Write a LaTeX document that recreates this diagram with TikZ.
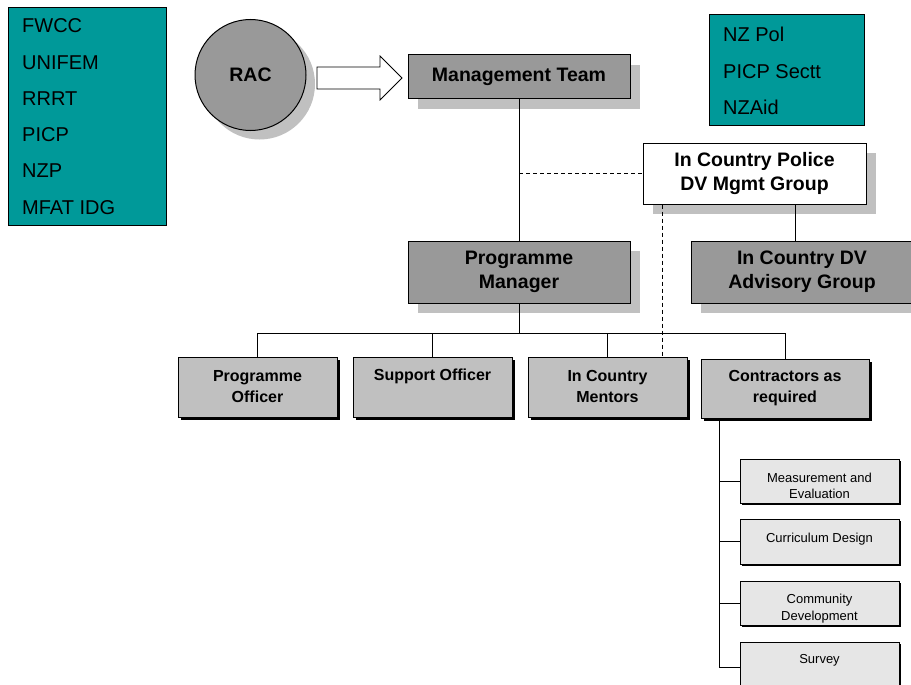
\documentclass[tikz,border=0pt]{standalone}
\usepackage{fontspec}
\setmainfont{Liberation Sans}
\usetikzlibrary{calc}
\definecolor{tealc}{HTML}{009999}
\definecolor{boxg}{HTML}{999999}
\definecolor{shadg}{HTML}{C0C0C0}
\definecolor{rowg}{HTML}{C0C0C0}
\definecolor{subg}{HTML}{E6E6E6}
\newcommand\fbig{\bfseries\fontsize{19.5}{24}\selectfont}
\newcommand\fmid{\bfseries\fontsize{16}{21}\selectfont}
\newcommand\fsub{\fontsize{13}{16.5}\selectfont}
\newcommand\fteal{\fontsize{20}{24}\selectfont}
\begin{document}
\begin{tikzpicture}[x=1pt,y=-1pt,
  bigbox/.style={draw=black, line width=1pt, inner sep=0pt, align=center, font=\fbig, minimum width=222pt},
  shadowbox/.style={fill=shadg, inner sep=0pt, minimum width=222pt},
  rowbox/.style={draw=black, line width=1pt, fill=rowg, inner sep=0pt, minimum width=159pt, minimum height=60pt},
  subbox/.style={draw=black, line width=0.8pt, fill=subg, inner sep=0pt, minimum width=159pt, minimum height=44pt},
  blackshade/.style={fill=black, inner sep=0pt},
  rowtxt/.style={font=\fmid, align=center, inner sep=0pt},
  subtxt/.style={font=\fsub, align=center, inner sep=0pt},
  tealbox/.style={draw=black, line width=0.8pt, fill=tealc, inner sep=0pt},
  tealtxt/.style={font=\fteal, anchor=base west, inner sep=0pt},
  conn/.style={draw=black, line width=0.9pt},
  dashline/.style={draw=black, line width=0.9pt, dash pattern=on 4pt off 3pt}]
\useasboundingbox (0,0) rectangle (911,685);
\fill[white] (0,0) rectangle (911,685);

% teal boxes
\node[tealbox, minimum width=158pt, minimum height=218pt] (leftlist) at (87,116) {};
\foreach \t [count=\i] in {FWCC,UNIFEM,RRRT,PICP,NZP,MFAT IDG}
  \node[tealtxt] (l\i) at (22,{33+36.2*(\i-1)}) {\t};
\node[tealbox, minimum width=155pt, minimum height=111pt] (rightlist) at (786.5,69.5) {};
\foreach \t [count=\i] in {NZ Pol,PICP Sectt,NZAid}
  \node[tealtxt] (r\i) at (723,{42+36*(\i-1)}) {\t};

% RAC
\node[circle, fill=shadg, minimum size=111pt, inner sep=0pt] (racS) at (259.5,84) {};
\node[circle, draw=black, line width=1pt, fill=boxg, minimum size=111pt, inner sep=0pt, font=\fbig] (rac) at (250.5,75) {RAC};

% hollow arrow
\draw[fill=white, line width=0.8pt] (317,67) -- (380,67) -- (380,56) -- (402,78) -- (380,100) -- (380,89) -- (317,89) -- cycle;

% big boxes with shadows
\node[shadowbox, minimum height=44pt] (mtS) at (529,87) {};
\node[bigbox, fill=boxg, minimum height=44pt] (mt) at (519,77) {Management Team};

\node[shadowbox, minimum width=223pt, minimum height=61pt] (icpS) at (764.5,183.5) {};
\node[bigbox, fill=white, minimum width=223pt, minimum height=61pt] (icp) at (754.5,173.5) {In Country Police\\DV Mgmt Group};

\node[shadowbox, minimum height=62pt] (pmS) at (529,282) {};
\node[bigbox, fill=boxg, minimum height=62pt] (pm) at (519,272) {Programme\\Manager};

\node[shadowbox, minimum height=62pt] (dvaS) at (812,282) {};
\node[bigbox, fill=boxg, minimum height=62pt] (dva) at (802,272) {In Country DV\\Advisory Group};

% row boxes
\node[blackshade, minimum width=159pt, minimum height=60pt] (poS) at (260,389.5) {};
\node[rowbox] (po) at (257.5,387) {};
\node[rowtxt] (pot) at (257.5,386.5) {Programme\\Officer};

\node[blackshade, minimum width=159pt, minimum height=60pt] (soS) at (435,389.5) {};
\node[rowbox] (so) at (432.5,387) {};
\node[rowtxt] (sot) at (432.5,376) {Support Officer};

\node[blackshade, minimum width=159pt, minimum height=60pt] (icmS) at (610,389.5) {};
\node[rowbox] (icm) at (607.5,387) {};
\node[rowtxt] (icmt) at (607.5,386.5) {In Country\\Mentors};

\node[blackshade, minimum width=168pt, minimum height=59pt] (conS) at (787.5,391) {};
\node[rowbox, minimum width=168pt, minimum height=59pt] (con) at (785,388.5) {};
\node[rowtxt] (cont) at (785,388.5) {Contractors as\\required};

% sub boxes
\node[blackshade, minimum width=159pt, minimum height=44pt] (meS) at (821.5,483) {};
\node[subbox] (me) at (819.5,481) {};
\node[subtxt] (met) at (819.5,486) {Measurement and\\Evaluation};

\node[blackshade, minimum width=159pt, minimum height=45pt] (cdS) at (821.5,543.5) {};
\node[subbox, minimum height=45pt] (cd) at (819.5,541.5) {};
\node[subtxt] (cdt) at (819.5,539) {Curriculum Design};

\node[blackshade, minimum width=159pt, minimum height=44pt] (cmS) at (821.5,605) {};
\node[subbox] (cm) at (819.5,603) {};
\node[subtxt] (cmt) at (819.5,608.5) {Community\\Development};

\node[blackshade, minimum width=159pt, minimum height=50pt] (svS) at (821.5,669) {};
\node[subbox, minimum height=50pt] (sv) at (819.5,667) {};
\node[subtxt] (svt) at (819.5,660) {Survey};

% connectors
\draw[conn] (mt.south) -- (pm.north);
\draw[dashline] (mt.south |- icp.west) -- (icp.west);
\coordinate (dv) at ($(icp.south west)+(20,0)$);
\draw[dashline] (dv) -- (dv |- icm.north);
\coordinate (dvtop) at ($(dva.north west)+(105,0)$);
\draw[conn] (icp.south -| dvtop) -- (dvtop);
\coordinate (bus) at ($(pm.south)+(0,30)$);
\draw[conn] (pm.south) -- (bus);
\draw[conn] (po.north) -- (po.north |- bus) -- (con.north |- bus) -- (con.north);
\draw[conn] (so.north) -- (so.north |- bus);
\draw[conn] (icm.north) -- (icm.north |- bus);
\coordinate (ct) at ($(con.south west)+(19,0)$);
\draw[conn] (ct) |- (sv.west);
\draw[conn] (ct |- me.west) -- (me.west);
\draw[conn] (ct |- cd.west) -- (cd.west);
\draw[conn] (ct |- cm.west) -- (cm.west);
\end{tikzpicture}
\end{document}
